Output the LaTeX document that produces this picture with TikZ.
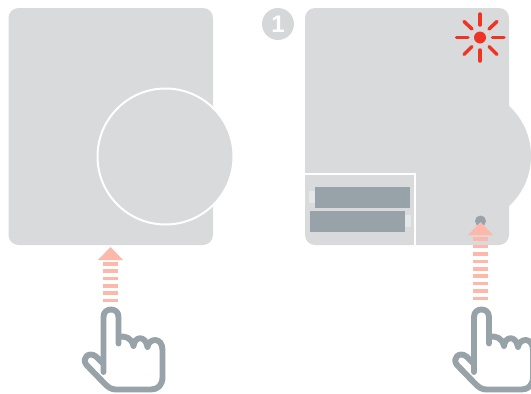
\documentclass[tikz,border=0pt]{standalone}
\usepackage{fontspec}
\setmainfont{Liberation Sans}
\definecolor{panel}{HTML}{D9DADC}
\definecolor{badge}{HTML}{D6D7D9}
\definecolor{slate}{HTML}{98A2A9}
\definecolor{salmon}{HTML}{FDB8AA}
\definecolor{flash}{HTML}{F03424}
\definecolor{tip}{HTML}{E6E7E9}
\tikzset{
  pics/hand/.style={code={
    \draw[slate,line width=5.9pt,fill=white,line join=round,line cap=round]
      (103.5,372) -- (103.5,317)
      .. controls (103.5,312) and (107,309.5) .. (111,309.5)
      .. controls (115,309.5) and (118.5,312) .. (118.5,317)
      -- (118.5,343.5) -- (118.5,337)
      .. controls (125,335.5) and (131.5,337.5) .. (133.5,346)
      .. controls (134.5,336) and (145.5,335) .. (147.5,347)
      .. controls (149,337.5) and (162.5,337) .. (162.5,350)
      -- (162.5,377)
      .. controls (162.5,385) and (158,389.5) .. (151,389.5)
      -- (116,389.5)
      .. controls (111,389.5) and (108,387) .. (105,384)
      -- (86.5,365)
      .. controls (81,358) and (89,351) .. (96,356.5)
      -- (103.5,364);
  }},
  stripe/.style={fill=salmon},
  ray/.style={flash,line width=3.5pt,line cap=round},
  sep/.style={draw=white,line width=2pt}
}
\begin{document}
\begin{tikzpicture}[x=1pt,y=-1pt]
\useasboundingbox (0,0) rectangle (531,394);
% left device
\fill[panel,rounded corners=10pt] (8.5,8) rectangle (213,245);
\draw[fill=panel,draw=white,line width=2pt] (165.5,156.5) circle[radius=68];
% right device
\fill[panel] (463,156) circle[radius=68];
\fill[panel,rounded corners=10pt] (305,8) rectangle (509,245);
\draw[sep] (305,173.5) -- (414.5,173.5) -- (414.5,245);
\fill[tip] (309,191) rectangle (316,203);
\fill[slate] (315,187) rectangle (410,208);
\fill[tip] (404,215) rectangle (410.5,227);
\fill[slate] (310,211) rectangle (405,232);
% badge
\node[circle,fill=badge,minimum size=32pt,inner sep=0pt,text=white,font=\bfseries\fontsize{24}{24}\selectfont] (badge) at (278,24) {1};
% flash
\fill[flash] (480,37.5) circle[radius=6];
\draw[ray] (480,14) -- (480,25);
\draw[ray] (480,50) -- (480,61);
\draw[ray] (456.5,37.5) -- (468,37.5);
\draw[ray] (492.5,37.5) -- (504,37.5);
\draw[ray] (464,21.5) -- (472,29);
\draw[ray] (497,21.5) -- (489,29);
\draw[ray] (464,54.5) -- (472,46.5);
\draw[ray] (497,54.5) -- (489,46.5);
% button
\fill[slate] (480.5,221) circle[radius=5.5];
% arrows
\fill[salmon] (110.5,247) -- (123,260) -- (98,260) -- cycle;
\foreach \i in {0,...,5} \fill[stripe] (103,262+7.3*\i) rectangle (118,265.6+7.3*\i);
\fill[salmon] (480.5,222) -- (493,235) -- (468,235) -- cycle;
\foreach \i in {0,...,8} \fill[stripe] (473,237.3+7.4*\i) rectangle (488,241+7.4*\i);
% hands
\pic at (0,0) {hand};
\pic at (370.5,0) {hand};
\end{tikzpicture}
\end{document}
